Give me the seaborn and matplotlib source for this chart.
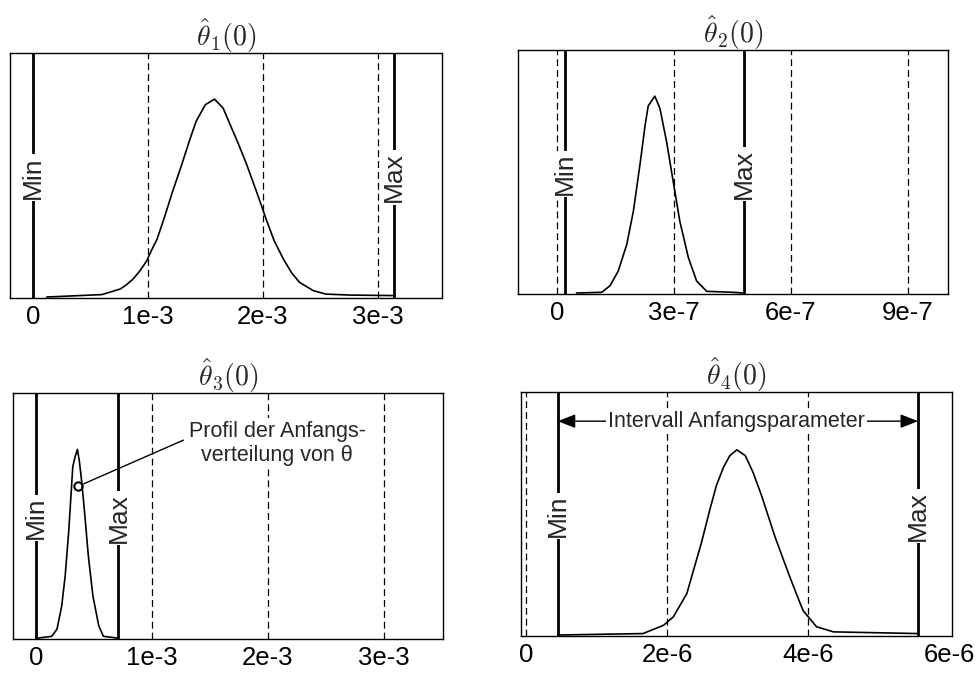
import numpy as np
import pandas as pd
import matplotlib
matplotlib.use("Agg")
import matplotlib.pyplot as plt
import seaborn as sns

# ---------------- data ----------------
titles = [r"$\hat{\theta}_1(0)$", r"$\hat{\theta}_2(0)$", r"$\hat{\theta}_3(0)$", r"$\hat{\theta}_4(0)$"]

# distribution profiles (x in parameter units, y = relative frequency)
theta1_x = np.array([0.12, 0.60, 0.67, 0.76, 0.81, 0.87, 0.93, 0.99, 1.03, 1.08, 1.15, 1.21, 1.29,
                     1.365, 1.42, 1.50, 1.58, 1.655, 1.71, 1.785, 1.86, 1.96, 2.03, 2.10, 2.18,
                     2.25, 2.32, 2.44, 2.55, 2.76, 3.13]) * 1e-3
theta1_y = [0.0, 0.01, 0.02, 0.033, 0.049, 0.073, 0.107, 0.148, 0.19, 0.237, 0.335, 0.425, 0.536,
            0.645, 0.72, 0.788, 0.811, 0.774, 0.713, 0.631, 0.543, 0.413, 0.318, 0.23, 0.155,
            0.10, 0.06, 0.026, 0.012, 0.008, 0.006]

theta2_x = np.array([0.50, 1.15, 1.36, 1.57, 1.79, 1.96, 2.13, 2.26, 2.34, 2.51, 2.64, 2.81, 2.98,
                     3.15, 3.37, 3.58, 3.84, 4.52, 4.78]) * 1e-7
theta2_y = [0.0, 0.003, 0.03, 0.09, 0.20, 0.337, 0.53, 0.69, 0.77, 0.81, 0.76, 0.624, 0.46,
            0.296, 0.146, 0.05, 0.007, 0.003, 0.0]

theta3_x = np.array([0.02, 0.135, 0.18, 0.22, 0.25, 0.28, 0.30, 0.316, 0.336, 0.356, 0.373, 0.394,
                     0.42, 0.45, 0.49, 0.54, 0.58, 0.70]) * 1e-3
theta3_y = [0.0, 0.007, 0.037, 0.13, 0.253, 0.43, 0.58, 0.70, 0.74, 0.77, 0.72, 0.633,
            0.50, 0.335, 0.17, 0.05, 0.007, 0.0]

theta4_x = np.array([0.45, 1.66, 1.95, 2.09, 2.28, 2.49, 2.61, 2.70, 2.80, 2.89, 2.99, 3.11, 3.22,
                     3.34, 3.44, 3.53, 3.65, 3.74, 3.84, 3.93, 4.12, 4.36, 4.88, 5.56]) * 1e-6
theta4_y = [0.0, 0.006, 0.04, 0.075, 0.17, 0.382, 0.519, 0.615, 0.69, 0.738, 0.762, 0.738, 0.669,
            0.574, 0.485, 0.405, 0.31, 0.24, 0.165, 0.10, 0.034, 0.013, 0.01, 0.006]

# interval of initial parameters
interval_min = [0.0, 0.2e-7, 0.0, 0.45e-6]
interval_max = [3.14e-3, 4.8e-7, 0.71e-3, 5.56e-6]

# axes ticks
ticks = [[0, 1e-3, 2e-3, 3e-3], [0, 3e-7, 6e-7, 9e-7], [0, 1e-3, 2e-3, 3e-3], [0, 2e-6, 4e-6, 6e-6]]
tick_labels = [["0", "1e-3", "2e-3", "3e-3"], ["0", "3e-7", "6e-7", "9e-7"],
               ["0", "1e-3", "2e-3", "3e-3"], ["0", "2e-6", "4e-6", "6e-6"]]
xlims = [(-0.2e-3, 3.56e-3), (-1.0e-7, 10.03e-7), (-0.2e-3, 3.51e-3), (-0.07e-6, 6.04e-6)]

annot_text = "Profil der Anfangs-\nverteilung von θ"
annot_point = (0.365e-3, 0.62)
annot_text_pos = (2.08e-3, 0.795)
interval_text = "Intervall Anfangsparameter"

# ---------------- style ----------------
sns.set_theme(style="white")
plt.rcParams["font.family"] = ["Liberation Sans", "DejaVu Sans"]
plt.rcParams["mathtext.fontset"] = "cm"
plt.rcParams["axes.edgecolor"] = "black"
plt.rcParams["axes.linewidth"] = 1.0

fig = plt.figure(figsize=(9.77, 6.75), dpi=100)
rects = [
    (10 / 977, 1 - 298 / 675, 432 / 977, 245 / 675),
    (518 / 977, 1 - 294 / 675, 430 / 977, 244 / 675),
    (13 / 977, 1 - 639 / 675, 430 / 977, 246 / 675),
    (521 / 977, 1 - 636 / 675, 431 / 977, 244 / 675),
]
curves = [(theta1_x, theta1_y), (theta2_x, theta2_y), (theta3_x, theta3_y), (theta4_x, theta4_y)]

dash = (0, (5.5, 3.2))
tick_fs = 18.5

for i in range(4):
    ax = fig.add_axes(rects[i])
    xs, ys = curves[i]
    df = pd.DataFrame({"x": xs, "y": ys})
    xlo, xhi = xlims[i]
    # dashed grid lines at ticks
    for t in ticks[i]:
        if xlo < t < xhi - 0.01 * (xhi - xlo):
            ax.axvline(t, color="black", lw=0.9, ls=dash, zorder=1)
    # Min / Max lines
    ax.axvline(interval_min[i], color="black", lw=2.0, zorder=2)
    ax.axvline(interval_max[i], color="black", lw=2.0, zorder=2)
    sns.lineplot(data=df, x="x", y="y", ax=ax, color="black", lw=1.2, sort=False,
                 estimator=None, zorder=3)
    bb = dict(facecolor="white", edgecolor="none", pad=1.5)
    ax.text(interval_min[i], 0.49, "Min", rotation=90, ha="center", va="center",
            fontsize=19, bbox=bb, zorder=5)
    ax.text(interval_max[i], 0.49, "Max", rotation=90, ha="center", va="center",
            fontsize=19, bbox=bb, zorder=5)
    ax.set_xlim(xlo, xhi)
    ax.set_ylim(-0.004, 1.0)
    ax.set_xticks(ticks[i])
    ax.set_xticklabels(tick_labels[i], fontsize=tick_fs)
    ax.set_yticks([])
    ax.tick_params(axis="x", length=0, pad=5, colors="black")
    ax.set_xlabel("")
    ax.set_ylabel("")
    ax.set_title(titles[i], fontsize=20, pad=5)
    for s in ax.spines.values():
        s.set_visible(True)
        s.set_color("black")
        s.set_linewidth(1.0)

    if i == 2:
        ax.plot([annot_point[0]], [annot_point[1]], marker="o", ms=6, mfc="none",
                mec="black", mew=1.5, zorder=6)
        ax.annotate(annot_text, xy=annot_point, xytext=annot_text_pos,
                    ha="center", va="center", fontsize=15.5, multialignment="center",
                    bbox=dict(facecolor="white", edgecolor="none", pad=2),
                    arrowprops=dict(arrowstyle="-", color="black", lw=1.0,
                                    relpos=(0.0, 0.62), shrinkA=2, shrinkB=4),
                    zorder=6)
    if i == 3:
        ax.annotate("", xy=(interval_min[i], 0.88), xytext=(interval_max[i], 0.88),
                    arrowprops=dict(arrowstyle="<|-|>,head_length=0.9,head_width=0.35",
                                    color="black", lw=1.0, shrinkA=0, shrinkB=0),
                    zorder=4)
        ax.text((interval_min[i] + interval_max[i]) / 2 - 0.02e-6, 0.88, interval_text,
                ha="center", va="center", fontsize=15.5,
                bbox=dict(facecolor="white", edgecolor="none", pad=1.5), zorder=6)

fig.savefig("out.png", dpi=100)
